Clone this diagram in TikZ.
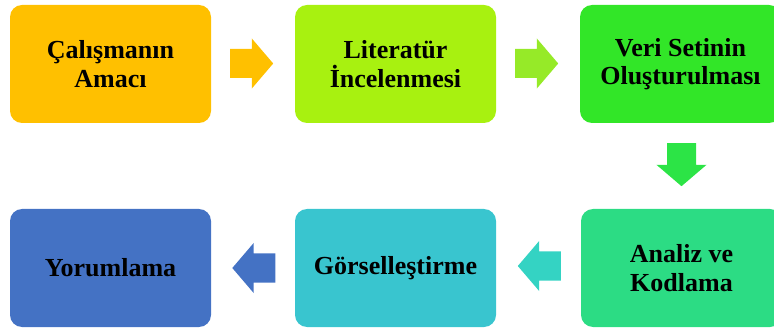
\documentclass[tikz,border=0pt]{standalone}
\usepackage{fontspec}
\setmainfont{Liberation Serif}
\definecolor{myamber}{RGB}{255, 192, 0}
\definecolor{mylime}{RGB}{168, 241, 16}
\definecolor{mylimearrow}{RGB}{150, 234, 40}
\definecolor{mygreen}{RGB}{50, 230, 40}
\definecolor{mygreenarrow}{RGB}{44, 228, 70}
\definecolor{mymint}{RGB}{44, 220, 132}
\definecolor{myteal}{RGB}{52, 211, 195}
\definecolor{mycyan}{RGB}{57, 197, 207}
\definecolor{myblue}{RGB}{68, 114, 196}
\usepackage{tikz}
\usetikzlibrary{shapes.arrows}
\tikzset{every picture/.style={line width=0.75pt}}
\tikzset{
  stepbox/.style={rounded corners=9pt, minimum width=150.75pt, minimum height=88.5pt,
    align=center, inner sep=0.75pt, font=\fontsize{19.5}{21.5}\selectfont\bfseries},
  blockarrow/.style={single arrow, minimum height=32.25pt, inner xsep=0pt, inner ysep=10.5pt,
    single arrow head extend=7.9pt, single arrow tip angle=99, draw=none}
}

\begin{document}
\begin{tikzpicture}[x=0.75pt,y=0.75pt,yscale=-1,xscale=1]
\useasboundingbox (0,0) rectangle (774,331);
\clip (0,0) rectangle (774,331);

%Shape: Rounded Rect [id:box1] 
\node [stepbox, fill=myamber] (amac) at (110.5,64) {Çalışmanın\\Amacı};
%Shape: Rounded Rect [id:box2] 
\node [stepbox, fill=mylime] (literatur) at (395.5,64) {Literatür\\İncelenmesi};
%Shape: Rounded Rect [id:box3] 
\node [stepbox, fill=mygreen] (veri) at (680.5,64) {Veri Setinin\\Oluşturulması};
%Shape: Rounded Rect [id:box4] 
\node [stepbox, fill=mymint] (analiz) at (681.5,268) {Analiz ve\\Kodlama};
%Shape: Rounded Rect [id:box5] 
\node [stepbox, fill=mycyan] (gorsel) at (395.5,268) {Görselleştirme};
%Shape: Rounded Rect [id:box6] 
\node [stepbox, fill=myblue] (yorum) at (110.5,268) {Yorumlama};

%Right Arrow [id:arr1] 
\node [blockarrow, fill=myamber] (ok1) at (245.5,63.5) {};
%Right Arrow [id:arr2] 
\node [blockarrow, fill=mylimearrow] (ok2) at (530.5,63.5) {};
%Down Arrow [id:arr3] 
\node [blockarrow, fill=mygreenarrow, rotate=-90] (ok3) at (681.5,158.5) {};
%Left Arrow [id:arr4] 
\node [blockarrow, fill=myteal, rotate=180] (ok4) at (545.5,266) {};
%Left Arrow [id:arr5] 
\node [blockarrow, fill=myblue, rotate=180] (ok5) at (260,268) {};

\end{tikzpicture}
\end{document}
